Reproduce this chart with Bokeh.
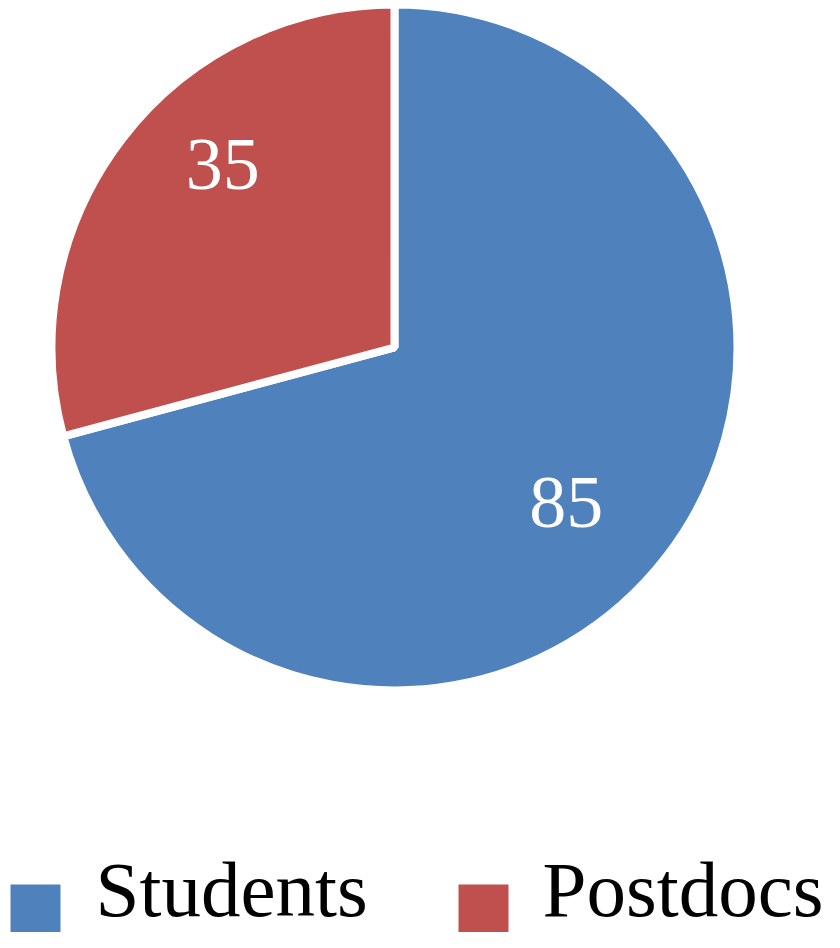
import math
from bokeh.plotting import figure
from bokeh.models import Range1d, ColumnDataSource
from bokeh.core.properties import value
from bokeh.embed import file_html
from bokeh.resources import INLINE

categories = ["Students", "Postdocs"]
counts = [85, 35]
colors = ["#4F81BD", "#C0504D"]

W, H = 824, 932
cx, cy = 394, H - 347
R = 339
total = sum(counts)
label_rot = math.radians(-7)

starts, ends, lx, ly = [], [], [], []
cum = 0.0
for c in counts:
    a0 = math.pi / 2 - 2 * math.pi * cum / total
    cum += c
    a1 = math.pi / 2 - 2 * math.pi * cum / total
    starts.append(a0)
    ends.append(a1)
    mid = (a0 + a1) / 2 + label_rot
    lx.append(cx + 0.71 * R * math.cos(mid))
    ly.append(cy + 0.71 * R * math.sin(mid))

src = ColumnDataSource(dict(cat=categories, val=[str(v) for v in counts], color=colors,
                            start=starts, end=ends, lx=lx, ly=ly))

p = figure(width=W, height=H, x_range=Range1d(0, W), y_range=Range1d(0, H),
           output_backend="svg", toolbar_location=None, min_border=0)
p.axis.visible = False
p.grid.visible = False
p.outline_line_color = None
p.background_fill_color = "white"

p.wedge(x=cx, y=cy, radius=R + 4, start_angle="start", end_angle="end", direction="clock",
        fill_color="color", line_color="white", line_width=8, source=src)

p.text(x="lx", y="ly", text="val", source=src, text_color="white",
       text_font=value("Liberation Serif"), text_font_size="74px",
       text_align="center", text_baseline="middle", y_offset=-14)

# legend
leg_sq_x = [35, 483]
leg_txt_x = [95, 542]
p.rect(x=leg_sq_x, y=[H - 908, H - 908], width=50, height=48, fill_color=colors, line_color=None)
p.text(x=leg_txt_x, y=[H - 889, H - 889], text=categories, text_color="black",
       text_font=value("Liberation Serif"), text_font_size="79px",
       text_align="left", text_baseline="middle")

open("out.html", "w").write(file_html(p, INLINE))
